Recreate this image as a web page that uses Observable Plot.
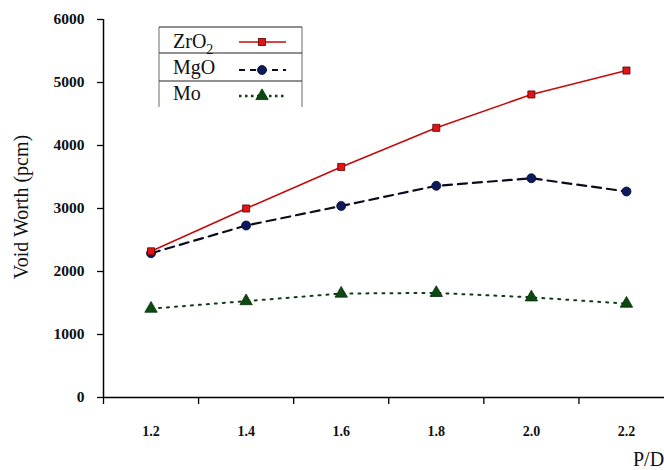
<!DOCTYPE html>
<html>
<head>
<meta charset="utf-8">
<script src="https://cdn.jsdelivr.net/npm/d3@7"></script>
<script src="https://cdn.jsdelivr.net/npm/@observablehq/plot@0.6"></script>
<style>
  html, body { margin: 0; padding: 0; background: white; }
  #chart svg { display: block; }
</style>
</head>
<body>
<div id="chart"></div>
<script>
// ---- data ----
const pd = [1.2, 1.4, 1.6, 1.8, 2.0, 2.2];
const pdLabels = ["1.2", "1.4", "1.6", "1.8", "2.0", "2.2"];
const zro2 = [2320, 3000, 3660, 4280, 4810, 5190];
const mgo = [2290, 2730, 3040, 3360, 3480, 3270];
const mo = [1410, 1530, 1650, 1660, 1590, 1490];
const yTicks = [0, 1000, 2000, 3000, 4000, 5000, 6000];
const seriesNames = ["ZrO", "MgO", "Mo"];
const yTitle = "Void Worth (pcm)";
const xTitle = "P/D";

const rows = (vals) => pd.map((x, i) => ({x, y: vals[i]}));
const zRows = rows(zro2), mRows = rows(mgo), oRows = rows(mo);
const bounds = pd.map(d => +(d - 0.1).toFixed(2));

const serif = "'Liberation Serif', 'Times New Roman', serif";

const chart = Plot.plot({
  width: 664,
  height: 470,
  marginLeft: 103,
  marginRight: 0,
  marginTop: 19,
  marginBottom: 73,
  style: {background: "white", color: "black"},
  x: {domain: [1.1, 2.28]},
  y: {domain: [0, 6000]},
  marks: [
    Plot.axisY({ticks: yTicks, tickSize: 6, tickPadding: 13, tickFormat: d => String(d), label: null, strokeWidth: 1.3}),
    Plot.axisX({ticks: pd, tickSize: 0, tickPadding: 29, tickFormat: (d, i) => pdLabels[i], label: null}),
    Plot.axisX({ticks: bounds, tickSize: 7, tickFormat: () => "", label: null, strokeWidth: 1.3}),
    Plot.ruleY([0], {stroke: "black", strokeWidth: 1.5}),
    Plot.ruleX([1.1], {stroke: "black", strokeWidth: 1.5}),
    // series
    Plot.line(oRows, {x: "x", y: "y", stroke: "#0f3a14", strokeWidth: 2, strokeDasharray: "2,6"}),
    Plot.dot(oRows, {x: "x", y: "y", symbol: "triangle", r: 4.6, fill: "#0c4a12", stroke: "#06300a", strokeWidth: 0.8}),
    Plot.line(mRows, {x: "x", y: "y", stroke: "#0b0b1e", strokeWidth: 2.2, strokeDasharray: "9,6"}),
    Plot.dot(mRows, {x: "x", y: "y", symbol: "circle", r: 4.5, fill: "#0e1a5e", stroke: "#050a30", strokeWidth: 0.8}),
    Plot.line(zRows, {x: "x", y: "y", stroke: "#c40a0a", strokeWidth: 1.6}),
    Plot.dot(zRows, {x: "x", y: "y", symbol: "square", r: 4, fill: "#e01414", stroke: "#5a0000", strokeWidth: 0.8})
  ]
});
document.getElementById("chart").appendChild(chart);

const svg = d3.select(chart);
// tick label styling (before adding our own text)
svg.selectAll("text").each(function () {
  const n = this.closest("g[aria-label]");
  const lab = (n && n.getAttribute("aria-label")) || "";
  const s = d3.select(this).style("font-family", serif).style("font-weight", "bold").attr("fill", "#111");
  if (lab.indexOf("y-axis") >= 0) s.style("font-size", "15.5px");
  else s.style("font-size", "14px");
});

// axis titles
svg.append("text").attr("transform", "translate(28,207) rotate(-90)")
  .attr("text-anchor", "middle").style("font-family", serif).style("font-size", "20px").attr("fill", "#111").text(yTitle);
svg.append("text").attr("x", 633).attr("y", 466)
  .attr("text-anchor", "start").style("font-family", serif).style("font-size", "20px").attr("fill", "#111").text(xTitle);

// ---- legend ----
const lg = svg.append("g").style("font-family", serif).style("font-size", "20px").attr("text-anchor", "start");
const bx0 = 159, bx1 = 302, rowsY = [27, 53, 81], by1 = 107;
rowsY.forEach(y => lg.append("line").attr("x1", bx0).attr("x2", bx1).attr("y1", y).attr("y2", y).attr("stroke", "#222").attr("stroke-width", 1));
lg.append("line").attr("x1", bx0).attr("x2", bx0).attr("y1", 27).attr("y2", by1).attr("stroke", "#444").attr("stroke-width", 0.8);
lg.append("line").attr("x1", bx1).attr("x2", bx1).attr("y1", 27).attr("y2", by1).attr("stroke", "#444").attr("stroke-width", 0.8);

const baselines = [48, 74, 100];
const symY = [42, 70, 96];
const t0 = lg.append("text").attr("x", 173).attr("y", baselines[0]).attr("fill", "#111");
t0.append("tspan").text(seriesNames[0]);
t0.append("tspan").attr("dy", 6).style("font-size", "14px").text("2");
lg.append("text").attr("x", 173).attr("y", baselines[1]).attr("fill", "#111").text(seriesNames[1]);
lg.append("text").attr("x", 173).attr("y", baselines[2]).attr("fill", "#111").text(seriesNames[2]);

const lx0 = 239, lx1 = 286, mx = 262;
lg.append("line").attr("x1", lx0).attr("x2", lx1).attr("y1", symY[0]).attr("y2", symY[0]).attr("stroke", "#c40a0a").attr("stroke-width", 1.6);
lg.append("rect").attr("x", mx - 3.5).attr("y", symY[0] - 3.5).attr("width", 7).attr("height", 7).attr("fill", "#e01414").attr("stroke", "#5a0000").attr("stroke-width", 0.8);
lg.append("line").attr("x1", lx0).attr("x2", lx1).attr("y1", symY[1]).attr("y2", symY[1]).attr("stroke", "#0b0b1e").attr("stroke-width", 2.2).attr("stroke-dasharray", "6,5");
lg.append("circle").attr("cx", mx).attr("cy", symY[1]).attr("r", 4.5).attr("fill", "#0e1a5e").attr("stroke", "#050a30").attr("stroke-width", 0.8);
lg.append("line").attr("x1", lx0).attr("x2", lx1).attr("y1", symY[2]).attr("y2", symY[2]).attr("stroke", "#0f3a14").attr("stroke-width", 2.4).attr("stroke-dasharray", "2.5,3.5");
lg.append("path").attr("d", d3.symbol(d3.symbolTriangle, 4.6 * 4.6 * Math.PI)()).attr("transform", `translate(${mx},${symY[2]})`).attr("fill", "#0c4a12").attr("stroke", "#06300a").attr("stroke-width", 0.8);
</script>
</body>
</html>
